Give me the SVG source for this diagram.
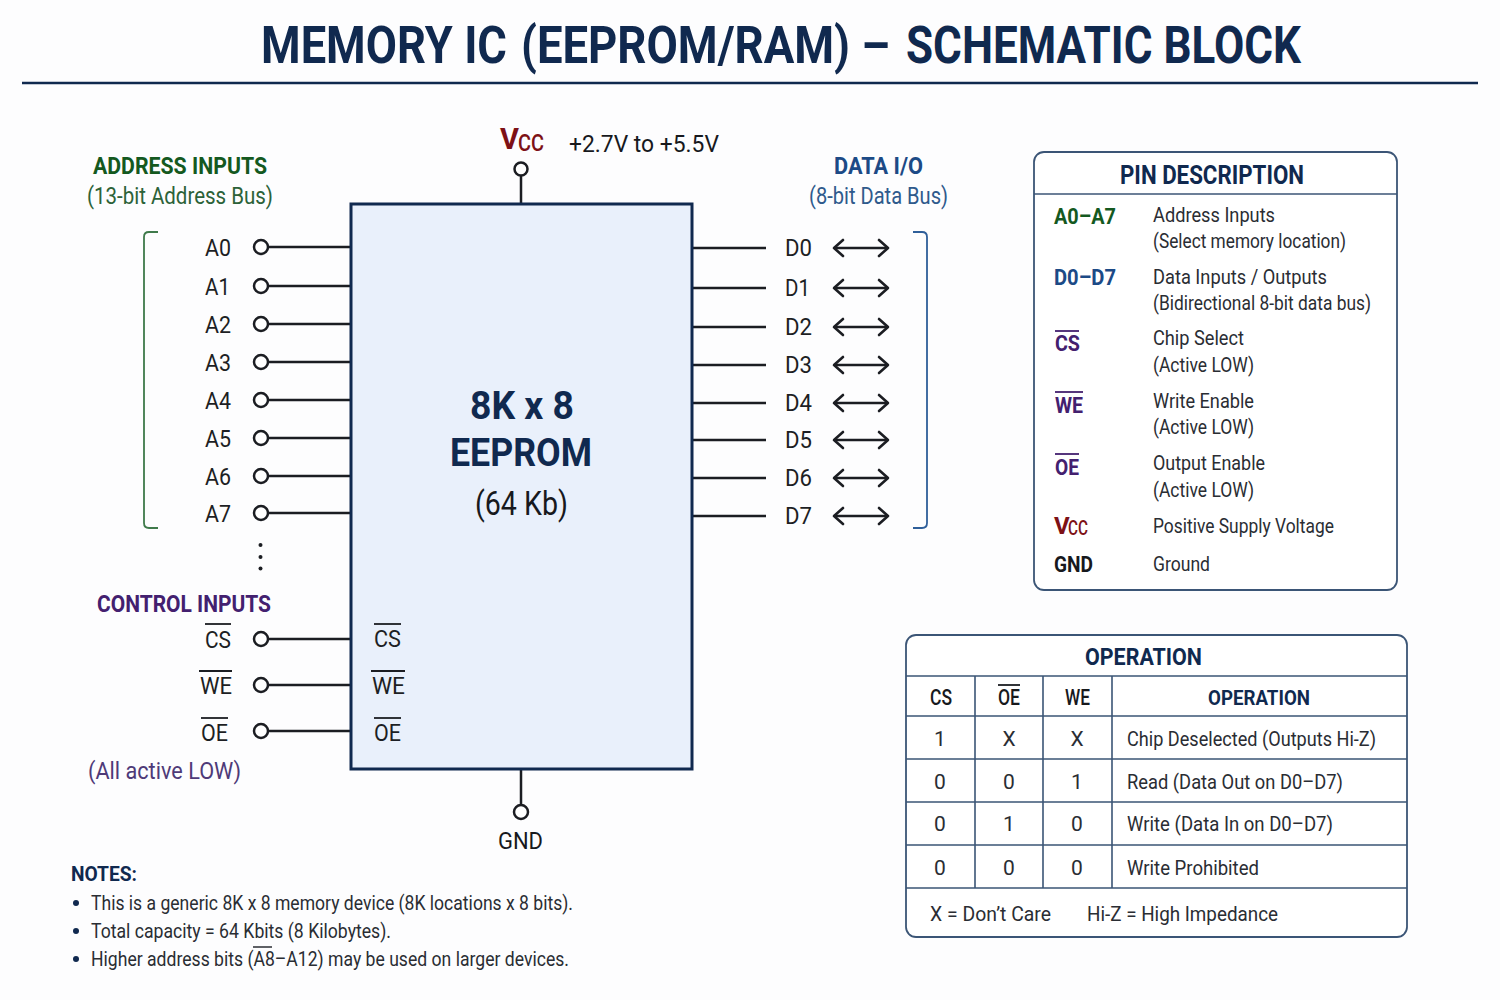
<svg xmlns="http://www.w3.org/2000/svg" width="1500" height="1000" viewBox="0 0 1500 1000">
<style>
text{font-family:Roboto,"Liberation Sans",sans-serif;fill:#2a2d33;font-size:21px}
.b{font-weight:700}
.m{font-weight:500}
.navy{fill:#10294f}.green{fill:#14591f}.blue{fill:#1c4a86}.purple{fill:#43206f}.red{fill:#7d1116}.blk{fill:#17191d}
.lgreen{fill:#2c6238}.lblue{fill:#2f5a8c}.lpurple{fill:#4e3a78}
.pin{font-size:23px;fill:#1d1f24}
.w{fill:none;stroke:#1b1d22;stroke-width:2.5}
.term{fill:#fff;stroke:#1b1d22;stroke-width:2.5}
.ol{stroke:#1b1d22;stroke-width:1.8}
.olp{stroke:#43206f;stroke-width:1.8}
.panel{fill:#fff;stroke:#3b5576;stroke-width:1.800}
.grid{fill:none;stroke:#3b5576;stroke-width:1.600}
</style>
<defs>
<marker id="chev" markerUnits="userSpaceOnUse" markerWidth="14" markerHeight="22" refX="11" refY="11" orient="auto-start-reverse">
<path d="M2 3 L11 11 L2 19" fill="none" stroke="#1b1d22" stroke-width="2.600" stroke-linejoin="round" stroke-linecap="round"/>
</marker>
</defs>
<rect width="1500" height="1000" fill="#fdfdfe"/>

<g id="title">
<text class="b navy" y="63" style="font-size:52px"><tspan x="261" textLength="246" lengthAdjust="spacingAndGlyphs">MEMORY IC</tspan> <tspan x="521" textLength="369" lengthAdjust="spacingAndGlyphs">(EEPROM/RAM) –</tspan> <tspan x="906" textLength="395" lengthAdjust="spacingAndGlyphs">SCHEMATIC BLOCK</tspan></text>
<line x1="22" y1="83" x2="1478" y2="83" stroke="#10294f" stroke-width="2.500"/>
</g>

<g id="connectors">
<path class="w" d="M268 247H351M268 286H351M268 324H351M268 362H351M268 400H351M268 438H351M268 476H351M268 513H351"/>
<path class="w" d="M268 639H351M268 685H351M268 731H351"/>
<path class="w" d="M692 248H766M692 288H766M692 327H766M692 365H766M692 403H766M692 440H766M692 478H766M692 516H766"/>
<path class="w" d="M521 175V204M521 769V805"/>
<g marker-start="url(#chev)" marker-end="url(#chev)" class="w">
<line x1="834" y1="248" x2="888" y2="248"/><line x1="834" y1="288" x2="888" y2="288"/><line x1="834" y1="327" x2="888" y2="327"/><line x1="834" y1="365" x2="888" y2="365"/><line x1="834" y1="403" x2="888" y2="403"/><line x1="834" y1="440" x2="888" y2="440"/><line x1="834" y1="478" x2="888" y2="478"/><line x1="834" y1="516" x2="888" y2="516"/>
</g>
</g>

<g id="chip">
<rect x="351" y="204" width="341" height="565" fill="#e9f0fb" stroke="#10294f" stroke-width="3"/>
<text class="b navy" x="470" y="419" style="font-size:38px" textLength="104" lengthAdjust="spacingAndGlyphs">8K x 8</text>
<text class="b navy" x="450" y="466" style="font-size:38px" textLength="142" lengthAdjust="spacingAndGlyphs">EEPROM</text>
<text class="blk" x="475" y="515" style="font-size:33px" textLength="93" lengthAdjust="spacingAndGlyphs">(64 Kb)</text>
<text class="pin" x="374" y="647" textLength="27" lengthAdjust="spacingAndGlyphs">CS</text><line class="ol" x1="374" y1="624" x2="401" y2="624"/>
<text class="pin" x="372" y="694" textLength="33" lengthAdjust="spacingAndGlyphs">WE</text><line class="ol" x1="371" y1="671" x2="405" y2="671"/>
<text class="pin" x="374" y="741" textLength="27" lengthAdjust="spacingAndGlyphs">OE</text><line class="ol" x1="374" y1="718" x2="401" y2="718"/>
</g>

<g id="vcc">
<circle class="term" cx="521" cy="169" r="6.500"/>
<text class="red" y="149"><tspan class="b" x="500" style="font-size:29px">V</tspan><tspan class="m" x="518" y="151" style="font-size:24px" textLength="26" lengthAdjust="spacingAndGlyphs">CC</tspan></text>
<text class="blk" x="569" y="152" style="font-size:24px" textLength="150" lengthAdjust="spacingAndGlyphs">+2.7V to +5.5V</text>
</g>
<g id="gnd">
<circle class="term" cx="521" cy="812" r="7"/>
<text class="blk" x="498" y="849" style="font-size:24px" textLength="45" lengthAdjust="spacingAndGlyphs">GND</text>
</g>

<g id="address-inputs">
<text class="b green" x="93" y="174" style="font-size:23px" textLength="174" lengthAdjust="spacingAndGlyphs">ADDRESS INPUTS</text>
<text class="lgreen" x="87" y="204" style="font-size:23px" textLength="186" lengthAdjust="spacingAndGlyphs">(13-bit Address Bus)</text>
<path d="M158 232H149Q144 232 144 237V523Q144 528 149 528H158" fill="none" stroke="#3f7a4b" stroke-width="1.800"/>
</g>
<g id="pin-A0"><circle class="term" cx="261" cy="247" r="7"/><text class="pin" x="205" y="256" textLength="26" lengthAdjust="spacingAndGlyphs">A0</text></g>
<g id="pin-A1"><circle class="term" cx="261" cy="286" r="7"/><text class="pin" x="205" y="295" textLength="25" lengthAdjust="spacingAndGlyphs">A1</text></g>
<g id="pin-A2"><circle class="term" cx="261" cy="324" r="7"/><text class="pin" x="205" y="333" textLength="26" lengthAdjust="spacingAndGlyphs">A2</text></g>
<g id="pin-A3"><circle class="term" cx="261" cy="362" r="7"/><text class="pin" x="205" y="371" textLength="26" lengthAdjust="spacingAndGlyphs">A3</text></g>
<g id="pin-A4"><circle class="term" cx="261" cy="400" r="7"/><text class="pin" x="205" y="409" textLength="26" lengthAdjust="spacingAndGlyphs">A4</text></g>
<g id="pin-A5"><circle class="term" cx="261" cy="438" r="7"/><text class="pin" x="205" y="447" textLength="26" lengthAdjust="spacingAndGlyphs">A5</text></g>
<g id="pin-A6"><circle class="term" cx="261" cy="476" r="7"/><text class="pin" x="205" y="485" textLength="26" lengthAdjust="spacingAndGlyphs">A6</text></g>
<g id="pin-A7"><circle class="term" cx="261" cy="513" r="7"/><text class="pin" x="205" y="522" textLength="26" lengthAdjust="spacingAndGlyphs">A7</text></g>
<g id="ellipsis" fill="#1b1d22"><circle cx="260.500" cy="545" r="2"/><circle cx="260.500" cy="557" r="2"/><circle cx="260.500" cy="568.500" r="2"/></g>

<g id="control-inputs">
<text class="b purple" x="97" y="612" style="font-size:23px" textLength="174" lengthAdjust="spacingAndGlyphs">CONTROL INPUTS</text>
<text class="lpurple" x="88" y="779" style="font-size:24px" textLength="153" lengthAdjust="spacingAndGlyphs">(All active LOW)</text>
</g>
<g id="pin-CS"><circle class="term" cx="261" cy="639" r="7"/><text class="pin" x="205" y="648" textLength="26" lengthAdjust="spacingAndGlyphs">CS</text><line class="ol" x1="205" y1="624" x2="231" y2="624"/></g>
<g id="pin-WE"><circle class="term" cx="261" cy="685" r="7"/><text class="pin" x="200" y="694" textLength="32" lengthAdjust="spacingAndGlyphs">WE</text><line class="ol" x1="199" y1="671" x2="232" y2="671"/></g>
<g id="pin-OE"><circle class="term" cx="261" cy="731" r="7"/><text class="pin" x="201" y="741" textLength="27" lengthAdjust="spacingAndGlyphs">OE</text><line class="ol" x1="201" y1="718" x2="228" y2="718"/></g>

<g id="data-io">
<text class="b blue" x="834" y="174" style="font-size:23px" textLength="89" lengthAdjust="spacingAndGlyphs">DATA I/O</text>
<text class="lblue" x="809" y="204" style="font-size:23px" textLength="139" lengthAdjust="spacingAndGlyphs">(8-bit Data Bus)</text>
<path d="M913 232H922Q927 232 927 237V523Q927 528 922 528H913" fill="none" stroke="#2f5f9a" stroke-width="1.800"/>
</g>
<g id="pin-D0"><text class="pin" x="785" y="256" textLength="27" lengthAdjust="spacingAndGlyphs">D0</text></g>
<g id="pin-D1"><text class="pin" x="785" y="296" textLength="25" lengthAdjust="spacingAndGlyphs">D1</text></g>
<g id="pin-D2"><text class="pin" x="785" y="335" textLength="27" lengthAdjust="spacingAndGlyphs">D2</text></g>
<g id="pin-D3"><text class="pin" x="785" y="373" textLength="27" lengthAdjust="spacingAndGlyphs">D3</text></g>
<g id="pin-D4"><text class="pin" x="785" y="411" textLength="27" lengthAdjust="spacingAndGlyphs">D4</text></g>
<g id="pin-D5"><text class="pin" x="785" y="448" textLength="27" lengthAdjust="spacingAndGlyphs">D5</text></g>
<g id="pin-D6"><text class="pin" x="785" y="486" textLength="27" lengthAdjust="spacingAndGlyphs">D6</text></g>
<g id="pin-D7"><text class="pin" x="785" y="524" textLength="27" lengthAdjust="spacingAndGlyphs">D7</text></g>

<g id="pin-description">
<rect class="panel" x="1034" y="152" width="363" height="438" rx="10"/>
<line class="grid" x1="1034" y1="194" x2="1397" y2="194"/>
<text class="b navy" x="1120" y="184" style="font-size:25px" textLength="184" lengthAdjust="spacingAndGlyphs">PIN DESCRIPTION</text>
<text class="b green" x="1054" y="224" style="font-size:22px" textLength="62" lengthAdjust="spacingAndGlyphs">A0–A7</text>
<text x="1153" y="222" textLength="122" lengthAdjust="spacingAndGlyphs">Address Inputs</text>
<text x="1153" y="248" textLength="193" lengthAdjust="spacingAndGlyphs">(Select memory location)</text>
<text class="b blue" x="1054" y="285" style="font-size:22px" textLength="62" lengthAdjust="spacingAndGlyphs">D0–D7</text>
<text x="1153" y="284" textLength="174" lengthAdjust="spacingAndGlyphs">Data Inputs / Outputs</text>
<text x="1153" y="310" textLength="218" lengthAdjust="spacingAndGlyphs">(Bidirectional 8-bit data bus)</text>
<text class="b purple" x="1055" y="351" style="font-size:22px" textLength="25" lengthAdjust="spacingAndGlyphs">CS</text><line class="olp" x1="1055" y1="331" x2="1079" y2="331"/>
<text x="1153" y="345" textLength="91" lengthAdjust="spacingAndGlyphs">Chip Select</text>
<text x="1153" y="372" textLength="101" lengthAdjust="spacingAndGlyphs">(Active LOW)</text>
<text class="b purple" x="1055" y="413" style="font-size:22px" textLength="28" lengthAdjust="spacingAndGlyphs">WE</text><line class="olp" x1="1055" y1="392" x2="1083" y2="392"/>
<text x="1153" y="408" textLength="101" lengthAdjust="spacingAndGlyphs">Write Enable</text>
<text x="1153" y="434" textLength="101" lengthAdjust="spacingAndGlyphs">(Active LOW)</text>
<text class="b purple" x="1055" y="475" style="font-size:22px" textLength="24" lengthAdjust="spacingAndGlyphs">OE</text><line class="olp" x1="1055" y1="454" x2="1079" y2="454"/>
<text x="1153" y="470" textLength="112" lengthAdjust="spacingAndGlyphs">Output Enable</text>
<text x="1153" y="497" textLength="101" lengthAdjust="spacingAndGlyphs">(Active LOW)</text>
<text class="red" y="534"><tspan class="b" x="1054" style="font-size:24px">V</tspan><tspan class="m" x="1068" y="535" style="font-size:20px" textLength="20" lengthAdjust="spacingAndGlyphs">CC</tspan></text>
<text x="1153" y="533" textLength="181" lengthAdjust="spacingAndGlyphs">Positive Supply Voltage</text>
<text class="b blk" x="1054" y="572" style="font-size:22px" textLength="39" lengthAdjust="spacingAndGlyphs">GND</text>
<text x="1153" y="571" textLength="57" lengthAdjust="spacingAndGlyphs">Ground</text>
</g>

<g id="operation-table">
<rect class="panel" x="906" y="635" width="501" height="302" rx="10"/>
<path class="grid" d="M906 676H1407M906 716H1407M906 759H1407M906 802H1407M906 845H1407M906 888H1407M975 676V888M1043 676V888M1112 676V888"/>
<text class="b navy" x="1085" y="665" style="font-size:24px" textLength="117" lengthAdjust="spacingAndGlyphs">OPERATION</text>
<text class="m blk" x="930" y="705" style="font-size:22px" textLength="22" lengthAdjust="spacingAndGlyphs">CS</text>
<text class="m blk" x="998" y="705" style="font-size:22px" textLength="22" lengthAdjust="spacingAndGlyphs">OE</text><line class="ol" x1="998" y1="685" x2="1020" y2="685"/>
<text class="m blk" x="1065" y="705" style="font-size:22px" textLength="25" lengthAdjust="spacingAndGlyphs">WE</text>
<text class="b navy" x="1208" y="705" style="font-size:21px" textLength="102" lengthAdjust="spacingAndGlyphs">OPERATION</text>
<g text-anchor="middle">
<text x="940" y="746">1</text><text x="1009" y="746">X</text><text x="1077" y="746">X</text>
<text x="940" y="789">0</text><text x="1009" y="789">0</text><text x="1077" y="789">1</text>
<text x="940" y="831">0</text><text x="1009" y="831">1</text><text x="1077" y="831">0</text>
<text x="940" y="875">0</text><text x="1009" y="875">0</text><text x="1077" y="875">0</text>
</g>
<text x="1127" y="746" textLength="249" lengthAdjust="spacingAndGlyphs">Chip Deselected (Outputs Hi-Z)</text>
<text x="1127" y="789" textLength="216" lengthAdjust="spacingAndGlyphs">Read (Data Out on D0–D7)</text>
<text x="1127" y="831" textLength="206" lengthAdjust="spacingAndGlyphs">Write (Data In on D0–D7)</text>
<text x="1127" y="875" textLength="132" lengthAdjust="spacingAndGlyphs">Write Prohibited</text>
<text x="930" y="921" textLength="121" lengthAdjust="spacingAndGlyphs">X = Don’t Care</text>
<text x="1087" y="921" textLength="191" lengthAdjust="spacingAndGlyphs">Hi-Z = High Impedance</text>
</g>

<g id="notes">
<text class="b navy" x="71" y="881" style="font-size:21px" textLength="66" lengthAdjust="spacingAndGlyphs">NOTES:</text>
<circle cx="76" cy="903" r="3" fill="#10294f"/><circle cx="76" cy="931" r="3" fill="#10294f"/><circle cx="76" cy="959" r="3" fill="#10294f"/>
<text x="91" y="910" style="font-size:20px" textLength="482" lengthAdjust="spacingAndGlyphs">This is a generic 8K x 8 memory device (8K locations x 8 bits).</text>
<text x="91" y="938" style="font-size:20px" textLength="300" lengthAdjust="spacingAndGlyphs">Total capacity = 64 Kbits (8 Kilobytes).</text>
<text x="91" y="966" style="font-size:20px" textLength="478" lengthAdjust="spacingAndGlyphs">Higher address bits (A8–A12) may be used on larger devices.</text>
<line x1="253" y1="947" x2="272" y2="947" stroke="#2a2d33" stroke-width="1.500"/>
</g>
</svg>
